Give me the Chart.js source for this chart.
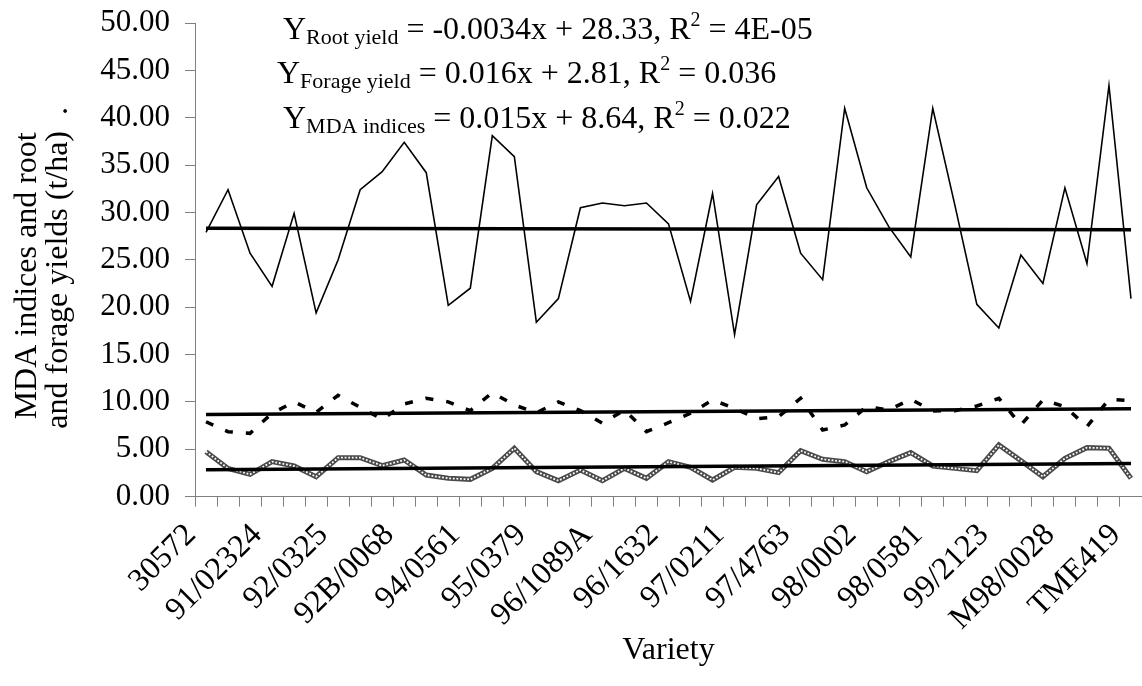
<!DOCTYPE html>
<html>
<head>
<meta charset="utf-8">
<script src="https://cdn.jsdelivr.net/npm/chart.js@4.4.1/dist/chart.umd.min.js"></script>
<style>
  html, body { margin: 0; padding: 0; background: #ffffff; }
  canvas { display: block; }
</style>
</head>
<body>
<canvas id="chart" width="1142" height="686"></canvas>
<script>
// Cassava varieties on the category axis (only every third name is printed)
const varieties = [
  '30572', '', '', '91/02324', '', '', '92/0325', '', '', '92B/0068', '', '',
  '94/0561', '', '', '95/0379', '', '', '96/1089A', '', '', '96/1632', '', '',
  '97/0211', '', '', '97/4763', '', '', '98/0002', '', '', '98/0581', '', '',
  '99/2123', '', '', 'M98/0028', '', '', 'TME419'
];

// Fresh root yield (t/ha)
const rootYield = [
  27.9, 32.4, 25.7, 22.2, 29.9, 19.4, 25.0, 32.4, 34.3, 37.4, 34.2, 20.2, 22.0,
  38.1, 35.9, 18.4, 20.9, 30.5, 31.0, 30.7, 31.0, 28.8, 20.6, 32.0, 17.1, 30.8,
  33.8, 25.7, 22.9, 41.0, 32.6, 28.5, 25.3, 41.0, 30.8, 20.3, 17.8, 25.5, 22.5,
  32.6, 24.6, 43.4, 20.9
];

// MDA indices
const mdaIndices = [
  7.90, 6.85, 6.68, 8.80, 10.00, 8.90, 10.70, 9.43, 8.16, 9.78, 10.38, 10.00, 9.07,
  10.97, 9.67, 8.86, 10.00, 9.07, 7.74, 9.14, 6.86, 7.80, 8.80, 10.20, 9.32, 8.23,
  8.44, 10.38, 7.03, 7.56, 9.50, 9.14, 10.27, 9.04, 9.07, 9.57, 10.38, 7.56, 10.20,
  9.50, 7.38, 10.27, 10.13
];

// Forage yield (t/ha)
const forageYield = [
  4.74, 2.98, 2.35, 3.69, 3.23, 2.10, 4.11, 4.11, 3.26, 3.86, 2.28, 1.93, 1.82,
  2.98, 5.10, 2.63, 1.68, 2.81, 1.68, 2.98, 1.93, 3.69, 3.09, 1.75, 3.09, 2.98,
  2.53, 4.85, 3.94, 3.69, 2.63, 3.69, 4.64, 3.23, 2.98, 2.74, 5.45, 3.80, 2.10,
  4.04, 5.17, 5.10, 1.93
];

// Linear trend equations printed on the chart: Y = slope * x + intercept
const trendNames      = ['Root yield', 'Forage yield', 'MDA indices'];
const trendSlopes     = [-0.0034, 0.016, 0.015];
const trendIntercepts = [28.33, 2.81, 8.64];
const trendR2         = ['4E-05', '0.036', '0.022'];

// Y axis range
const yMin = 0, yMax = 50, yStep = 5;

const FONT = 'Liberation Serif, Times New Roman, serif';
Chart.defaults.font.family = FONT;
Chart.defaults.color = '#000000';

// trend line: drawn between the first and the last variety (x = 1 ... n)
function trendLine(k) {
  const n = varieties.length;
  const arr = new Array(n).fill(null);
  arr[0] = trendSlopes[k] * 1 + trendIntercepts[k];
  arr[n - 1] = trendSlopes[k] * n + trendIntercepts[k];
  return arr;
}

const plain = { pointRadius: 0, pointHoverRadius: 0, tension: 0, fill: false };

const datasets = [
  Object.assign({ label: 'Root yield trend', data: trendLine(0), borderColor: '#000', borderWidth: 3.5, spanGaps: true, order: 0 }, plain),
  Object.assign({ label: 'Forage yield trend', data: trendLine(1), borderColor: '#000', borderWidth: 3.5, spanGaps: true, order: 0 }, plain),
  Object.assign({ label: 'MDA indices trend', data: trendLine(2), borderColor: '#000', borderWidth: 3.5, spanGaps: true, order: 0 }, plain),
  // forage yield: a grey band with a white chain pattern on top
  Object.assign({ label: 'Forage yield', data: forageYield, borderColor: '#ffffff', borderWidth: 1.8, borderDash: [1.8, 1.8], order: 1 }, plain),
  Object.assign({ label: 'Forage yield base', data: forageYield, borderColor: '#4a4a4a', borderWidth: 5, order: 2 }, plain),
  Object.assign({ label: 'MDA indices', data: mdaIndices, borderColor: '#000', borderWidth: 3.5, borderDash: [8, 13], borderCapStyle: 'butt', order: 3 }, plain),
  Object.assign({ label: 'Root yield', data: rootYield, borderColor: '#000', borderWidth: 1.6, order: 4 }, plain)
];

// Trend equations written in the upper part of the plot
const equationPlugin = {
  id: 'equations',
  afterDraw(chart) {
    const ctx = chart.ctx;
    const lines = [
      { x: 283, y: 39 },
      { x: 277, y: 83 },
      { x: 283, y: 128 }
    ];
    ctx.save();
    ctx.fillStyle = '#000';
    ctx.textBaseline = 'alphabetic';
    ctx.textAlign = 'left';
    lines.forEach((pos, k) => {
      const slope = trendSlopes[k];
      const sign = trendIntercepts[k] >= 0 ? ' + ' : ' - ';
      const parts = [
        { t: 'Y', size: 32, dy: 0 },
        { t: trendNames[k], size: 22, dy: 5 },
        { t: ' = ' + slope + 'x' + sign + Math.abs(trendIntercepts[k]) + ', R', size: 32, dy: 0 },
        { t: '2', size: 20, dy: -13 },
        { t: ' = ' + trendR2[k], size: 32, dy: 0 }
      ];
      let x = pos.x;
      parts.forEach(p => {
        ctx.font = p.size + 'px ' + FONT;
        ctx.fillText(p.t, x, pos.y + p.dy);
        x += ctx.measureText(p.t).width;
      });
    });
    ctx.restore();
  }
};

new Chart(document.getElementById('chart'), {
  type: 'line',
  data: { labels: varieties, datasets: datasets },
  options: {
    responsive: false,
    animation: false,
    devicePixelRatio: 1,
    layout: { padding: { top: 23, right: -2.4, bottom: 0, left: 0 } },
    plugins: { legend: { display: false }, tooltip: { enabled: false } },
    scales: {
      x: {
        type: 'category',
        offset: true,
        grid: { offset: true, drawOnChartArea: false, drawTicks: true, tickLength: 10, color: '#808080' },
        border: { color: '#808080', width: 1 },
        ticks: {
          autoSkip: false,
          maxRotation: 45,
          minRotation: 45,
          padding: 12,
          labelOffset: -15,
          font: { size: 32, lineHeight: 1.0 },
          color: '#000',
          callback: (v, i) => varieties[i]
        },
        title: {
          display: true,
          text: 'Variety',
          font: { size: 32 },
          color: '#000',
          padding: { top: 0, bottom: 16 }
        },
        afterFit(scale) {
          scale.height = 189.4;
          scale.paddingLeft = 0;
          scale.paddingRight = 0;
        }
      },
      y: {
        min: yMin,
        max: yMax,
        grid: { drawOnChartArea: false, drawTicks: true, tickLength: 10, color: '#808080' },
        border: { color: '#808080', width: 1 },
        ticks: {
          stepSize: yStep,
          padding: 15,
          font: { size: 31 },
          color: '#000',
          callback: v => Number(v).toFixed(2)
        },
        title: {
          display: true,
          text: ['MDA indices and root    ', 'and forage yields (t/ha)  .  '],
          font: { size: 32, lineHeight: 0.97 },
          color: '#000',
          padding: { top: 12, bottom: 0 }
        },
        afterFit(scale) {
          scale.width = 195;
          scale.paddingTop = 0;
          scale.paddingBottom = 0;
        }
      }
    }
  },
  plugins: [equationPlugin]
});
</script>
</body>
</html>
